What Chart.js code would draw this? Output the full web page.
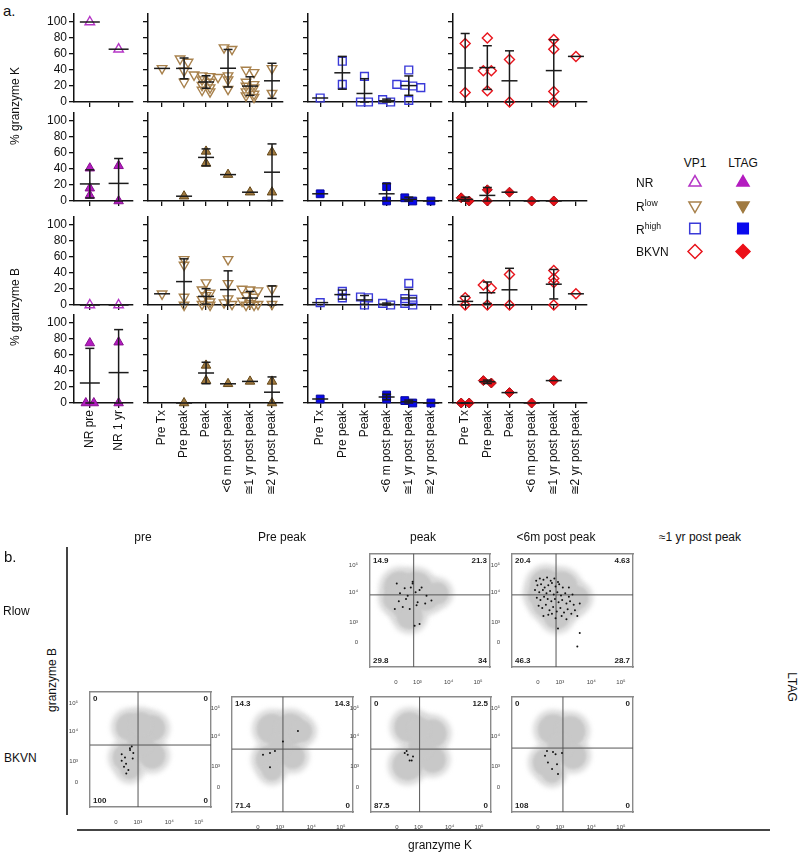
<!DOCTYPE html>
<html>
<head>
<meta charset="utf-8">
<script src="https://cdn.jsdelivr.net/npm/chart.js@4.4.1/dist/chart.umd.min.js"></script>
<style>
body { margin: 0; background: #fff; }
#page { position: relative; width: 800px; height: 855px; overflow: hidden; font-family: 'Liberation Sans', Arial, sans-serif; color: #111; }
#page canvas { position: absolute; }
.txt { position: absolute; white-space: nowrap; line-height: 1; }
.txt sup { font-size: 0.72em; vertical-align: 0.55em; }
.rule { position: absolute; background: #444; }
</style>
</head>
<body>
<div id="page"></div>
<script>
// ---- panel a data: one list of values per x category ----
const nrLabels = ['NR pre', 'NR 1 yr'];
const timeLabels = ['Pre Tx', 'Pre peak', 'Peak', '<6 m post peak', '≅1 yr post peak', '≅2 yr post peak'];
const yTicks = [0, 20, 40, 60, 80, 100];

// % granzyme K, VP1
const nrGzkVP1 = [[100], [66]];
const rlowGzkVP1 = [[42], [54, 50, 39, 25], [34, 33, 32, 31, 28, 25, 21, 18, 15, 13], [68, 66, 33, 28, 16], [40, 37, 25, 22, 20, 18, 13, 10, 8, 6], [42, 11]];
const rhighGzkVP1 = [[5], [51, 22], [32, 0, 0], [0, 3], [40, 22, 21, 20, 18, 2], []];
const bkvnGzkVP1 = [[73, 12], [80, 39, 39, 14], [53, 0], [], [78, 66, 13, 0], [57]];
// % granzyme K, LTAG
const nrGzkLTAG = [[41, 16, 7], [44, 0]];
const rlowGzkLTAG = [[], [6], [62, 47], [33], [11], [61, 11]];
const rhighGzkLTAG = [[9], [], [], [18, 0], [4, 0], [0]];
const bkvnGzkLTAG = [[4, 0], [14, 0], [11], [0], [0], []];
// % granzyme B, VP1
const nrGzbVP1 = [[0], [0]];
const rlowGzbVP1 = [[14], [57, 50, 10, 0], [28, 19, 15, 12, 7, 4, 1, 0], [57, 27, 8, 3, 1], [20, 19, 18, 12, 10, 5, 2, 1, 0, 0], [20, 1]];
const rhighGzbVP1 = [[3], [17, 9], [10, 9, 0], [2, 0], [27, 8, 7, 2, 0], []];
const bkvnGzbVP1 = [[9, 0], [25, 21, 0], [38, 0], [], [43, 33, 28, 0], [14]];
// % granzyme B, LTAG
const nrGzbLTAG = [[75, 0, 0], [76, 0]];
const rlowGzbLTAG = [[], [0], [47, 28], [24], [27], [27, 0]];
const rhighGzbLTAG = [[5], [], [], [10, 5], [3, 0], [0]];
const bkvnGzbLTAG = [[0, 0], [28, 25], [13], [0], [28], []];

const legendRows = ['NR', 'R<sup>low</sup>', 'R<sup>high</sup>', 'BKVN'];
const legendCols = ['VP1', 'LTAG'];

// ---- panel b data (display channels 0-1000) ----
const flowTickVals = [215, 395, 655, 900];
const flowTickText = ['0', '10³', '10⁴', '10⁵'];

const rlowPeakQuad = ['14.9', '21.3', '29.8', '34'];
const rlowPeakGate = [364, 636];
const rlowPeakCloud = [{x: 250, y: 700, r: 15}, {x: 380, y: 690, r: 16}, {x: 300, y: 560, r: 15}, {x: 460, y: 620, r: 13}, {x: 560, y: 650, r: 10}, {x: 330, y: 450, r: 12}, {x: 210, y: 600, r: 11}];
const rlowPeakDots = [[223, 736], [289, 694], [355, 752], [314, 628], [207, 512], [273, 529], [388, 545], [372, 364], [355, 736], [413, 678], [471, 628], [512, 587], [397, 570], [331, 512], [413, 380], [250, 650], [300, 600], [340, 700], [380, 660], [430, 700], [240, 580], [460, 560]];

const rlowSixQuad = ['20.4', '4.63', '46.3', '28.7'];
const rlowSixGate = [364, 636];
const rlowSixCloud = [{x: 280, y: 720, r: 15}, {x: 410, y: 700, r: 15}, {x: 300, y: 570, r: 15}, {x: 450, y: 570, r: 14}, {x: 530, y: 610, r: 11}, {x: 370, y: 450, r: 12}, {x: 230, y: 640, r: 11}];
const rlowSixDots = [[200, 760], [230, 780], [260, 770], [290, 790], [320, 760], [350, 780], [380, 750], [210, 720], [240, 730], [270, 700], [300, 720], [330, 740], [360, 710], [390, 730], [420, 700], [190, 680], [225, 660], [255, 680], [285, 650], [315, 670], [345, 640], [375, 660], [405, 630], [440, 650], [470, 620], [205, 610], [235, 590], [265, 620], [295, 600], [325, 580], [355, 600], [385, 570], [415, 590], [450, 560], [480, 580], [510, 550], [220, 540], [250, 520], [280, 550], [310, 500], [340, 530], [370, 490], [400, 520], [430, 480], [460, 510], [490, 470], [520, 500], [540, 450], [300, 460], [360, 430], [450, 420], [380, 340], [560, 300], [540, 180], [470, 700], [500, 640], [560, 560], [260, 450], [330, 470], [410, 450]];

const bkvnPreQuad = ['0', '0', '100', '0'];
const bkvnPreGate = [397, 537];
const bkvnPreCloud = [{x: 331, y: 694, r: 13}, {x: 512, y: 682, r: 12}, {x: 306, y: 430, r: 13}, {x: 512, y: 446, r: 12}, {x: 420, y: 560, r: 12}, {x: 420, y: 720, r: 11}, {x: 330, y: 330, r: 9}];
const bkvnPreDots = [[262, 457], [289, 430], [331, 495], [358, 468], [298, 375], [281, 348], [317, 320], [353, 420], [262, 400], [300, 290], [345, 525], [330, 510]];

const bkvnPrePeakQuad = ['14.3', '14.3', '71.4', '0'];
const bkvnPrePeakGate = [421, 545];
const bkvnPrePeakCloud = [{x: 330, y: 720, r: 14}, {x: 480, y: 715, r: 15}, {x: 570, y: 700, r: 10}, {x: 314, y: 455, r: 13}, {x: 330, y: 360, r: 9}, {x: 500, y: 480, r: 11}, {x: 400, y: 580, r: 11}];
const bkvnPrePeakDots = [[545, 702], [314, 388], [314, 512], [355, 529], [421, 612], [256, 496]];

const bkvnPeakQuad = ['0', '12.5', '87.5', '0'];
const bkvnPeakGate = [405, 545];
const bkvnPeakCloud = [{x: 322, y: 735, r: 14}, {x: 512, y: 680, r: 13}, {x: 306, y: 405, r: 14}, {x: 512, y: 455, r: 12}, {x: 420, y: 570, r: 12}, {x: 400, y: 720, r: 11}];
const bkvnPeakDots = [[297, 529], [306, 496], [339, 446], [281, 512], [322, 446], [350, 480]];

const bkvnSixQuad = ['0', '0', '108', '0'];
const bkvnSixGate = [421, 554];
const bkvnSixCloud = [{x: 340, y: 715, r: 14}, {x: 480, y: 700, r: 14}, {x: 289, y: 430, r: 13}, {x: 504, y: 488, r: 12}, {x: 400, y: 570, r: 12}, {x: 330, y: 340, r: 9}];
const bkvnSixDots = [[289, 529], [339, 521], [413, 512], [297, 430], [372, 413], [331, 372], [380, 330], [273, 488], [360, 500]];

// ---- layout ----
const page = document.getElementById('page');
Chart.defaults.font.family = "'Liberation Sans', Arial, sans-serif";
Chart.defaults.color = '#111';
Chart.defaults.animation = false;
Chart.defaults.events = [];
Chart.defaults.plugins.legend.display = false;
Chart.defaults.plugins.tooltip.enabled = false;

const PX = 0.8;      // px per % unit
const YMAX = 110;
const COLS = [
    {l: 74, r: 133, xmin: 0.45, xmax: 2.5, labels: nrLabels, meanW: 10},
    {l: 148, r: 283, xmin: 0.36, xmax: 6.5, labels: timeLabels, meanW: 8},
    {l: 308, r: 442, xmin: 0.45, xmax: 6.5, labels: timeLabels, meanW: 8},
    {l: 453, r: 587, xmin: 0.45, xmax: 6.5, labels: timeLabels, meanW: 8}
];
const ROW_BASE = [102, 201, 305, 403];
const ROW_SETS = [
    [nrGzkVP1, rlowGzkVP1, rhighGzkVP1, bkvnGzkVP1],
    [nrGzkLTAG, rlowGzkLTAG, rhighGzkLTAG, bkvnGzkLTAG],
    [nrGzbVP1, rlowGzbVP1, rhighGzbVP1, bkvnGzbVP1],
    [nrGzbLTAG, rlowGzbLTAG, rhighGzbLTAG, bkvnGzbLTAG]
];
const STYLES = [
    {shape: 'triangle', radius: 5.5, openColor: '#b535c6', fill: '#b41cc0', edge: '#86108f', openRot: 0, fillRot: 0, legendFillRot: 0},
    {shape: 'triangle', radius: 5.5, openColor: '#a8814c', fill: '#a07a40', edge: '#654819', openRot: 180, fillRot: 0, legendFillRot: 180},
    {shape: 'rect', radius: 5.5, openColor: '#3a3ad8', fill: '#0909ee', edge: '#07079a', openRot: 0, fillRot: 0, legendFillRot: 0},
    {shape: 'rectRot', radius: 5, openColor: '#e8141c', fill: '#ec1018', edge: '#a80a10', openRot: 0, fillRot: 0, legendFillRot: 0}
];

function addText(html, x, y, o = {}) {
    const d = document.createElement('div');
    d.className = 'txt';
    d.innerHTML = html;
    d.style.left = x + 'px';
    d.style.top = y + 'px';
    d.style.fontSize = (o.size || 12) + 'px';
    const tx = o.align === 'left' ? '0' : '-50%';
    d.style.transform = `translate(${tx},-50%)` + (o.rot ? ` rotate(${o.rot}deg)` : '');
    page.appendChild(d);
}

function addRule(x, y, w, h) {
    const d = document.createElement('div');
    d.className = 'rule';
    Object.assign(d.style, {left: x + 'px', top: y + 'px', width: w + 'px', height: h + 'px'});
    page.appendChild(d);
}

function addCanvas(x, y, w, h) {
    const cv = document.createElement('canvas');
    cv.width = w;
    cv.height = h;
    cv.style.left = x + 'px';
    cv.style.top = y + 'px';
    page.appendChild(cv);
    return cv;
}

function mean(a) { return a.reduce((s, v) => s + v, 0) / a.length; }
function stdev(a) {
    const m = mean(a);
    return Math.sqrt(a.reduce((s, v) => s + (v - m) * (v - m), 0) / (a.length - 1));
}

// spread points with near-equal values side by side, centred on the category
function swarm(vals, step) {
    const order = vals.map((v, i) => i).sort((a, b) => vals[b] - vals[a]);
    const off = new Array(vals.length).fill(0);
    let band = [];
    const flush = () => {
        band.forEach((k, j) => { off[k] = (j - (band.length - 1) / 2) * step; });
        band = [];
    };
    order.forEach(k => {
        if (band.length && vals[band[0]] - vals[k] > 4) flush();
        band.push(k);
    });
    flush();
    return off;
}

const errBarPlugin = {
    id: 'errBars',
    afterDatasetsDraw(chart, args, opts) {
        const {ctx, scales: {x, y}} = chart;
        ctx.save();
        ctx.strokeStyle = '#1b1b1b';
        ctx.lineWidth = 1.5;
        const seg = (x1, y1, x2, y2) => { ctx.beginPath(); ctx.moveTo(x1, y1); ctx.lineTo(x2, y2); ctx.stroke(); };
        opts.groups.forEach((vals, i) => {
            if (!vals.length) return;
            const m = mean(vals);
            const px = x.getPixelForValue(i + 1);
            const py = y.getPixelForValue(m);
            seg(px - opts.meanW, py, px + opts.meanW, py);
            if (vals.length > 1) {
                const sd = stdev(vals);
                const top = y.getPixelForValue(m + sd);
                const bot = y.getPixelForValue(Math.max(0, m - sd));
                seg(px, top, px, bot);
                seg(px - 4.5, top, px + 4.5, top);
                seg(px - 4.5, bot, px + 4.5, bot);
            }
        });
        ctx.restore();
    }
};

function dotPanel(ci, ri) {
    const col = COLS[ci];
    const y0 = ROW_BASE[ri];
    const groups = ROW_SETS[ri][ci];
    const st = STYLES[ci];
    const filled = ri % 2 === 1;
    const yW = ci === 0 ? 40 : 8;
    const xH = ri === 3 ? 110 : 12;
    const padT = 12, padR = 8;
    const h = YMAX * PX;
    const cv = addCanvas(col.l - yW, y0 - h - padT, col.r - col.l + yW + padR, h + padT + xH);
    const pxX = (col.r - col.l) / (col.xmax - col.xmin);

    const pts = [];
    groups.forEach((g, i) => {
        const off = swarm(g, 8 / pxX);
        g.forEach((v, k) => pts.push({x: i + 1 + off[k], y: v}));
    });

    new Chart(cv, {
        type: 'scatter',
        data: {
            datasets: [{
                data: pts,
                pointStyle: st.shape,
                pointRadius: st.radius,
                pointRotation: filled ? st.fillRot : st.openRot,
                backgroundColor: filled ? st.fill : 'rgba(0,0,0,0)',
                borderColor: filled ? st.edge : st.openColor,
                borderWidth: filled ? 1 : 1.4,
                clip: false
            }]
        },
        options: {
            responsive: false,
            layout: {autoPadding: false, padding: {top: padT, right: padR, left: 0, bottom: 0}},
            scales: {
                x: {
                    type: 'linear',
                    min: col.xmin,
                    max: col.xmax,
                    afterBuildTicks: s => { s.ticks = col.labels.map((_, i) => ({value: i + 1})); },
                    afterFit: s => { s.height = xH; },
                    ticks: {
                        display: ri === 3,
                        autoSkip: false,
                        minRotation: 90,
                        maxRotation: 90,
                        padding: 2,
                        font: {size: 12},
                        callback: v => col.labels[Math.round(v) - 1] || ''
                    },
                    grid: {display: true, drawOnChartArea: false, drawTicks: true, tickLength: 5, color: '#111', lineWidth: 1.3},
                    border: {display: true, color: '#111', width: 1.5}
                },
                y: {
                    min: 0,
                    max: YMAX,
                    afterBuildTicks: s => { s.ticks = yTicks.map(v => ({value: v})); },
                    afterFit: s => { s.width = yW; },
                    ticks: {display: ci === 0, padding: 2, font: {size: 12}},
                    grid: {display: true, drawOnChartArea: false, drawTicks: true, tickLength: 5, color: '#111', lineWidth: 1.3},
                    border: {display: true, color: '#111', width: 1.5}
                }
            },
            plugins: {errBars: {groups: groups, meanW: col.meanW}}
        },
        plugins: [errBarPlugin]
    });
}

for (let ri = 0; ri < 4; ri++) {
    for (let ci = 0; ci < 4; ci++) dotPanel(ci, ri);
}

// legend markers for panel a
(function legendChart() {
    const cv = addCanvas(671, 171, 96, 92);
    const sets = [];
    STYLES.forEach((st, r) => {
        legendCols.forEach((c, k) => {
            const filled = k === 1;
            sets.push({
                data: [{x: k + 1, y: r + 1}],
                pointStyle: st.shape,
                pointRadius: st.shape === 'rect' ? 7.5 : 7,
                pointRotation: filled ? st.legendFillRot : st.openRot,
                backgroundColor: filled ? st.fill : 'rgba(0,0,0,0)',
                borderColor: filled ? st.fill : st.openColor,
                borderWidth: 1.5,
                clip: false
            });
        });
    });
    new Chart(cv, {
        type: 'scatter',
        data: {datasets: sets},
        options: {
            responsive: false,
            layout: {autoPadding: false, padding: 0},
            scales: {
                x: {display: false, min: 0.5, max: 2.5},
                y: {display: false, min: 0.5, max: 4.5, reverse: true}
            }
        }
    });
})();

// quadrant percentages in the corners of each flow plot, soft edge for the event cloud
const quadPlugin = {
    id: 'quad',
    beforeDatasetDraw(chart, args) {
        if (args.index === 0) chart.ctx.filter = 'blur(2.5px)';
        if (args.index === 1) chart.ctx.filter = 'blur(1px)';
    },
    afterDatasetDraw(chart) {
        chart.ctx.filter = 'none';
    },
    afterDraw(chart, args, o) {
        const {ctx, chartArea: a} = chart;
        ctx.save();
        ctx.font = "bold 8px 'Liberation Sans', Arial, sans-serif";
        ctx.fillStyle = '#222';
        ctx.textBaseline = 'top';
        ctx.textAlign = 'left';
        ctx.fillText(o.q[0], a.left + 3, a.top + 3);
        ctx.textAlign = 'right';
        ctx.fillText(o.q[1], a.right - 3, a.top + 3);
        ctx.textBaseline = 'bottom';
        ctx.textAlign = 'left';
        ctx.fillText(o.q[2], a.left + 3, a.bottom - 2);
        ctx.textAlign = 'right';
        ctx.fillText(o.q[3], a.right - 3, a.bottom - 2);
        ctx.restore();
    }
};

function flowPlot(box, gate, quad, cloud, dots) {
    const [l, t, r, b] = box;
    const yW = 22, xH = 18, padT = 2, padR = 4;
    const cv = addCanvas(l - yW, t - padT, r - l + yW + padR, b - t + padT + xH);
    const tickScale = (afterFit, pos) => ({
        type: 'linear',
        min: 0,
        max: 1000,
        position: pos,
        afterBuildTicks: s => { s.ticks = flowTickVals.map(v => ({value: v})); },
        afterFit: afterFit,
        ticks: {
            display: pos === 'left' || pos === 'bottom',
            autoSkip: false,
            maxRotation: 0,
            padding: pos === 'left' ? 4 : 4,
            color: '#444',
            font: {size: 6},
            callback: v => flowTickText[flowTickVals.indexOf(v)]
        },
        grid: {display: false},
        border: {display: true, color: '#8a8a8a', width: 1.4}
    });
    new Chart(cv, {
        type: 'scatter',
        data: {
            datasets: [
                {data: cloud, order: 4, pointRadius: c => c.raw.r + 6, backgroundColor: '#dadada', borderWidth: 0},
                {data: cloud, order: 3, pointRadius: c => c.raw.r + 1, backgroundColor: '#c8c8c8', borderWidth: 0},
                {data: dots.map(([x, y]) => ({x, y})), order: 0, pointRadius: 1, backgroundColor: '#111', borderWidth: 0},
                {type: 'line', order: 1, data: [{x: gate[0], y: 0}, {x: gate[0], y: 1000}], borderColor: '#555', borderWidth: 1, pointRadius: 0},
                {type: 'line', order: 1, data: [{x: 0, y: gate[1]}, {x: 1000, y: gate[1]}], borderColor: '#555', borderWidth: 1, pointRadius: 0}
            ]
        },
        options: {
            responsive: false,
            layout: {autoPadding: false, padding: {top: padT, right: padR, left: 0, bottom: 0}},
            scales: {
                x: tickScale(s => { s.height = xH; }, 'bottom'),
                y: tickScale(s => { s.width = yW; }, 'left'),
                x2: tickScale(s => { s.height = 0; }, 'top'),
                y2: tickScale(s => { s.width = 0; }, 'right')
            },
            plugins: {quad: {q: quad}}
        },
        plugins: [quadPlugin]
    });
}

flowPlot([370, 548, 490, 667], rlowPeakGate, rlowPeakQuad, rlowPeakCloud, rlowPeakDots);
flowPlot([512, 548, 633, 667], rlowSixGate, rlowSixQuad, rlowSixCloud, rlowSixDots);
flowPlot([90, 686, 211, 807], bkvnPreGate, bkvnPreQuad, bkvnPreCloud, bkvnPreDots);
flowPlot([232, 691, 353, 812], bkvnPrePeakGate, bkvnPrePeakQuad, bkvnPrePeakCloud, bkvnPrePeakDots);
flowPlot([371, 691, 491, 812], bkvnPeakGate, bkvnPeakQuad, bkvnPeakCloud, bkvnPeakDots);
flowPlot([512, 691, 633, 812], bkvnSixGate, bkvnSixQuad, bkvnSixCloud, bkvnSixDots);

// ---- text ----
addText('a.', 3, 10, {align: 'left', size: 15});
addText('% granzyme K', 15, 106, {rot: -90});
addText('% granzyme B', 15, 307, {rot: -90});

addText(legendCols[0], 695, 163);
addText(legendCols[1], 743, 163);
[183, 206, 229, 252].forEach((y, i) => addText(legendRows[i], 636, y, {align: 'left'}));

addText('b.', 4, 556, {align: 'left', size: 15});
addText('pre', 143, 537);
addText('Pre peak', 282, 537);
addText('peak', 423, 537);
addText('&lt;6m post peak', 556, 537);
addText('≈1 yr post peak', 700, 537);
addText('Rlow', 3, 611, {align: 'left'});
addText('BKVN', 4, 758, {align: 'left'});
addText('granzyme B', 52, 680, {rot: -90});
addText('LTAG', 792, 687, {rot: 90});
addText('granzyme K', 440, 845);
addRule(66, 547, 1.5, 268);
addRule(77, 829, 693, 1.5);
</script>
</body>
</html>
